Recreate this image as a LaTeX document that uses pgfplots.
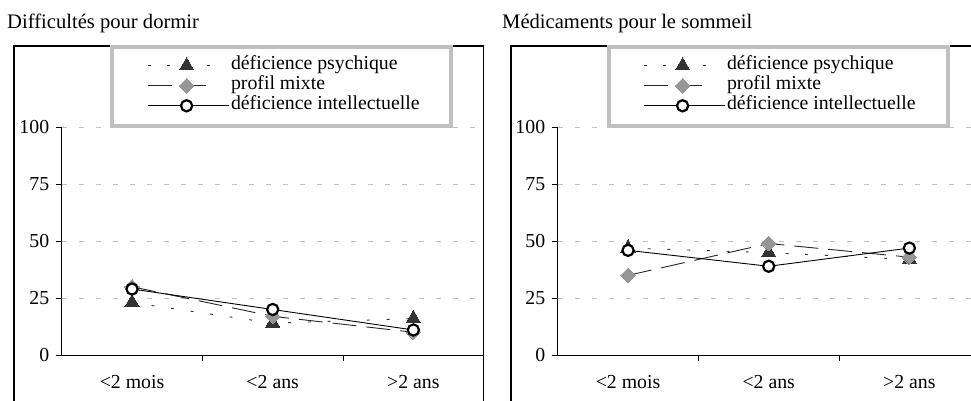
\documentclass[border=0pt]{standalone}
\usepackage{fontspec}
\setmainfont{Liberation Serif}
\usepackage{pgfplots}
\pgfplotsset{compat=1.18}
\definecolor{tri}{HTML}{333333}
\definecolor{dia}{HTML}{969696}
\definecolor{lgd}{HTML}{C0C0C0}
\newcommand\fs{\fontsize{19.8}{22}\selectfont}
\newcommand\fst{\fontsize{20.6}{24}\selectfont}

\pgfplotsset{
  panel/.style={
    scale only axis, width=422pt, height=227.5pt,
    anchor=south west,
    xmin=0, xmax=3, ymin=0, ymax=100,
    axis x line=bottom, axis y line=left,
    axis line style={-, black, line width=0.9pt},
    xtick={0.5,1.5,2.5}, xticklabels={{<2 mois},{<2 ans},{>2 ans}},
    minor xtick={1,2,3},
    tick align=outside,
    major x tick style={draw=none},
    minor tick length=6pt, major tick length=6pt,
    tick style={black, line width=0.9pt},
    ytick={0,25,50,75,100},
    ymajorgrids,
    grid style={dash pattern=on 5pt off 12pt, lgd, line width=0.8pt},
    tick label style={font=\fs},
    /pgf/number format/assume math mode=true,
    yticklabel style={xshift=-3pt},
    xticklabel style={yshift=-11pt},
    clip=false,
    legend cell align=left,
    legend style={draw=none, fill=none, at={(rel axis cs:0.202,1.316)}, anchor=north west,
      inner xsep=0pt, inner ysep=0pt, row sep=0pt, font=\fs,
      nodes={inner xsep=2pt, inner ysep=1pt, text height=13pt, text depth=5pt}},
  },
  psy/.style={tri, line width=0.9pt, dash pattern=on 3pt off 16.7pt,
    mark=triangle*, mark size=8.3pt, mark options={solid, fill=tri, draw=tri, line width=0pt},
    legend image code/.code={\draw[mark repeat=2,mark phase=2,##1] plot coordinates {(0pt,0pt) (39pt,0pt) (62pt,0pt)};}},
  mix/.style={black!85, line width=0.9pt, dash pattern=on 24pt off 10pt,
    mark=square*, mark size=5.2pt, mark options={solid, rotate=45, fill=dia, draw=dia, line width=0pt},
    legend image code/.code={\draw[mark repeat=2,mark phase=2,##1] plot coordinates {(0pt,0pt) (39pt,0pt) (61pt,0pt)};}},
  intel/.style={black, line width=0.9pt, solid,
    mark=*, mark size=5.6pt, mark options={solid, fill=white, draw=black, line width=2.2pt},
    legend image code/.code={\draw[mark repeat=2,mark phase=2,##1] plot coordinates {(0pt,0pt) (39pt,0pt) (81pt,0pt)};}},
}

\begin{document}
\begin{tikzpicture}
\useasboundingbox (0,0) rectangle (971pt,401pt);

% Left panel
\begin{axis}[panel, at={(61.7pt,46pt)}]
\addplot[psy] coordinates {(0.5,23) (1.5,14) (2.5,16)};
\addlegendentry{déficience psychique}
\addplot[mix] coordinates {(0.5,30) (1.5,17) (2.5,10)};
\addlegendentry{profil mixte}
\addplot[intel] coordinates {(0.5,29) (1.5,20) (2.5,11)};
\addlegendentry{déficience intellectuelle}
\end{axis}

% Right panel
\begin{axis}[panel, at={(557.7pt,46pt)}]
\addplot[psy] coordinates {(0.5,47) (1.5,45) (2.5,42)};
\addlegendentry{déficience psychique}
\addplot[mix] coordinates {(0.5,35) (1.5,49) (2.5,43)};
\addlegendentry{profil mixte}
\addplot[intel] coordinates {(0.5,46) (1.5,39) (2.5,47)};
\addlegendentry{déficience intellectuelle}
\end{axis}

% frames
\draw[black, line width=1.3pt] (14pt,-10pt) -- (14pt,355pt) -- (483.3pt,355pt) -- (483.3pt,-10pt);
\draw[black, line width=1.3pt] (511pt,-10pt) -- (511pt,355pt) -- (990pt,355pt);
% legend boxes
\draw[lgd, line width=3.6pt] (112pt,275pt) rectangle (451pt,354pt);
\draw[lgd, line width=3.6pt] (608.7pt,275pt) rectangle (948pt,354pt);

% titles
\node[anchor=base west, font=\fst, inner sep=0pt] at (7pt,372pt) {Difficultés pour dormir};
\node[anchor=base west, font=\fst, inner sep=0pt] at (502pt,372pt) {Médicaments pour le sommeil};
\end{tikzpicture}
\end{document}
